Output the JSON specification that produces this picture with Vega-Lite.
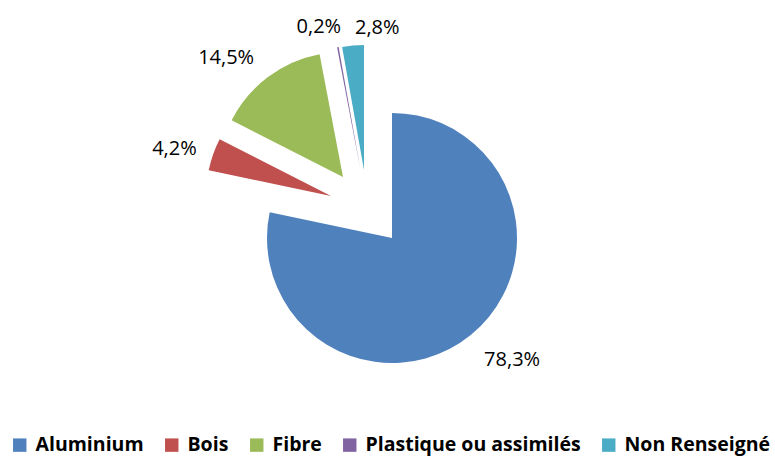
{
  "$schema": "https://vega.github.io/schema/vega-lite/v6.json",
  "width": 760,
  "height": 400,
  "autosize": {"type": "none"},
  "padding": {"left": 12, "top": 38, "right": 3, "bottom": 19},
  "background": "white",
  "config": {"view": {"stroke": null}},
  "data": {"values": [
    {"cat": "Aluminium", "value": 78.3, "label": "78,3%", "order": 1},
    {"cat": "Bois", "value": 4.2, "label": "4,2%", "order": 2},
    {"cat": "Fibre", "value": 14.5, "label": "14,5%", "order": 3},
    {"cat": "Plastique ou assimilés", "value": 0.2, "label": "0,2%", "order": 4},
    {"cat": "Non Renseigné", "value": 2.8, "label": "2,8%", "order": 5}
  ]},
  "transform": [
    {"stack": "value", "groupby": [], "sort": [{"field": "order", "order": "ascending"}], "as": ["v0", "v1"]}
  ],
  "layer": [
    {
      "transform": [{"filter": "datum.cat === 'Aluminium'"}],
      "mark": {"type": "arc", "radius": 125},
      "encoding": {
        "theta": {"field": "v0", "type": "quantitative", "stack": null, "scale": {"domain": [0, 100]}},
        "theta2": {"field": "v1"},
        "color": {"field": "cat", "type": "nominal",
          "scale": {"domain": ["Aluminium", "Bois", "Fibre", "Plastique ou assimilés", "Non Renseigné"], "range": ["#4F81BD", "#C0504D", "#9BBB59", "#8064A2", "#4BACC6"]},
          "legend": {"title": null, "orient": "none", "legendX": -2, "legendY": 397, "direction": "horizontal", "symbolType": "square", "symbolSize": 180, "symbolStrokeWidth": 0, "labelFont": "Open Sans", "labelFontWeight": "bold", "labelFontSize": 19.5, "labelColor": "black", "labelOffset": 6, "columnPadding": 18, "labelLimit": 400}}
      }
    },
    {
      "transform": [{"filter": "datum.cat === 'Bois'"}],
      "mark": {"type": "arc", "radius": 125, "xOffset": -61, "yOffset": -42},
      "encoding": {
        "theta": {"field": "v0", "type": "quantitative", "stack": null, "scale": {"domain": [0, 100]}},
        "theta2": {"field": "v1"},
        "color": {"field": "cat", "type": "nominal"}
      }
    },
    {
      "transform": [{"filter": "datum.cat === 'Fibre'"}],
      "mark": {"type": "arc", "radius": 125, "xOffset": -49, "yOffset": -61},
      "encoding": {
        "theta": {"field": "v0", "type": "quantitative", "stack": null, "scale": {"domain": [0, 100]}},
        "theta2": {"field": "v1"},
        "color": {"field": "cat", "type": "nominal"}
      }
    },
    {
      "transform": [{"filter": "datum.cat === 'Plastique ou assimilés'"}],
      "mark": {"type": "arc", "radius": 125, "xOffset": -31.5, "yOffset": -68},
      "encoding": {
        "theta": {"field": "v0", "type": "quantitative", "stack": null, "scale": {"domain": [0, 100]}},
        "theta2": {"field": "v1"},
        "color": {"field": "cat", "type": "nominal"}
      }
    },
    {
      "transform": [{"filter": "datum.cat === 'Non Renseigné'"}],
      "mark": {"type": "arc", "radius": 125, "xOffset": -28, "yOffset": -68},
      "encoding": {
        "theta": {"field": "v0", "type": "quantitative", "stack": null, "scale": {"domain": [0, 100]}},
        "theta2": {"field": "v1"},
        "color": {"field": "cat", "type": "nominal"}
      }
    },
    {
      "mark": {"type": "text", "radius": 170, "dx": 13, "dy": -10, "font": "Open Sans", "fontSize": 20, "color": "black", "align": "center", "baseline": "middle"},
      "encoding": {
        "theta": {"field": "value", "type": "quantitative", "stack": true, "scale": {"domain": [0, 100]}},
        "order": {"field": "order", "type": "quantitative"},
        "detail": {"field": "cat", "type": "nominal"},
        "text": {"condition": {"test": "datum.cat === 'Aluminium'", "field": "label"}, "value": ""}
      }
    },
    {
      "mark": {"type": "text", "radius": 166, "xOffset": -61, "yOffset": -42, "dy": 8, "font": "Open Sans", "fontSize": 20, "color": "black", "align": "center", "baseline": "middle"},
      "encoding": {
        "theta": {"field": "value", "type": "quantitative", "stack": true, "scale": {"domain": [0, 100]}},
        "order": {"field": "order", "type": "quantitative"},
        "detail": {"field": "cat", "type": "nominal"},
        "text": {"condition": {"test": "datum.cat === 'Bois'", "field": "label"}, "value": ""}
      }
    },
    {
      "mark": {"type": "text", "radius": 168, "xOffset": -49, "yOffset": -61, "dx": -16, "dy": 15, "font": "Open Sans", "fontSize": 20, "color": "black", "align": "center", "baseline": "middle"},
      "encoding": {
        "theta": {"field": "value", "type": "quantitative", "stack": true, "scale": {"domain": [0, 100]}},
        "order": {"field": "order", "type": "quantitative"},
        "detail": {"field": "cat", "type": "nominal"},
        "text": {"condition": {"test": "datum.cat === 'Fibre'", "field": "label"}, "value": ""}
      }
    },
    {
      "mark": {"type": "text", "radius": 147, "xOffset": -31.5, "yOffset": -68, "dx": -15, "dy": 2, "font": "Open Sans", "fontSize": 20, "color": "black", "align": "center", "baseline": "middle"},
      "encoding": {
        "theta": {"field": "value", "type": "quantitative", "stack": true, "scale": {"domain": [0, 100]}},
        "order": {"field": "order", "type": "quantitative"},
        "detail": {"field": "cat", "type": "nominal"},
        "text": {"condition": {"test": "datum.cat === 'Plastique ou assimilés'", "field": "label"}, "value": ""}
      }
    },
    {
      "mark": {"type": "text", "radius": 145, "xOffset": -28, "yOffset": -68, "dx": 26, "dy": 2, "font": "Open Sans", "fontSize": 20, "color": "black", "align": "center", "baseline": "middle"},
      "encoding": {
        "theta": {"field": "value", "type": "quantitative", "stack": true, "scale": {"domain": [0, 100]}},
        "order": {"field": "order", "type": "quantitative"},
        "detail": {"field": "cat", "type": "nominal"},
        "text": {"condition": {"test": "datum.cat === 'Non Renseigné'", "field": "label"}, "value": ""}
      }
    }
  ]
}
